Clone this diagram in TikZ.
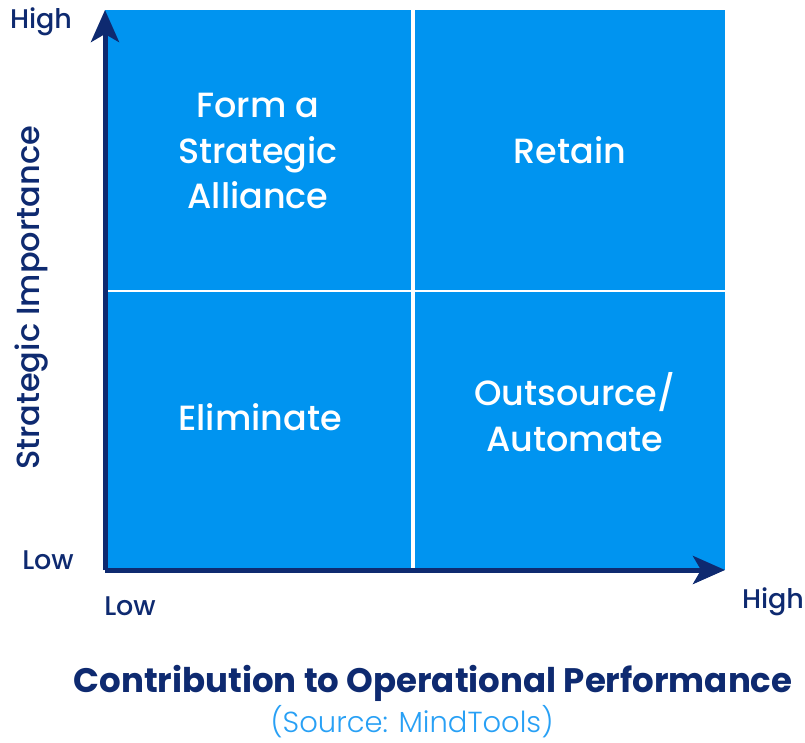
\documentclass[tikz,border=0pt]{standalone}
\usepackage{fontspec}
\setmainfont{Poppins}
\IfFontExistsTF{Poppins Medium}{\newfontfamily\medfont{Poppins Medium}}{\newfontfamily\medfont{Poppins}}
\IfFontExistsTF{Poppins Light}{\newfontfamily\lightfont{Poppins Light}}{\newfontfamily\lightfont{Poppins}}
\usepackage{xcolor}
\usetikzlibrary{arrows.meta,positioning,calc}
\definecolor{fieldblue}{RGB}{0,148,240}
\definecolor{navy}{RGB}{14,42,112}
\definecolor{sourceblue}{RGB}{40,160,245}

\begin{document}
\begin{tikzpicture}[
    x=1pt, y=-1pt,
    quad/.style={rectangle, fill=fieldblue, inner sep=0pt, minimum width=310pt, minimum height=278pt},
    quadtext/.style={text=white, align=center, font=\medfont\fontsize{35}{45.5}\selectfont},
    ticktext/.style={text=navy, font=\medfont\fontsize{27}{30}\selectfont},
    axis/.style={navy, line width=5pt, -{Stealth[length=32pt, width=28pt, inset=8pt]}}
]
\useasboundingbox (0,0) rectangle (805,742);

% Quadrants
\node[quad, minimum width=306pt, minimum height=280pt, anchor=north west] (tl) at (105,10) {};
\node[quad, minimum height=280pt, anchor=north west] (tr) at (415,10) {};
\node[quad, minimum width=306pt, anchor=north west] (bl) at (105,292) {};
\node[quad, anchor=north west] (br) at (415,292) {};

\node[quadtext] (alliance) at (258,151) {Form a\\Strategic\\Alliance};
\node[quadtext] (retain) at (570,150) {Retain};
\node[quadtext] (eliminate) at (260,417) {Eliminate};
\node[quadtext] (outsource) at (575,412) {Outsource/\\Automate};

% Axes
\coordinate (origin) at (105,570);
\coordinate (ytip) at (105,10);
\coordinate (xtip) at (725,570);
\draw[axis] (origin) -- (ytip);
\draw[axis] (origin) -- (xtip);

\node[ticktext] (yhigh) at (41,22) {High};
\node[ticktext] (ylow) at (48,560) {Low};
\node[ticktext] (xlow) at (130,606) {Low};
\node[ticktext] (xhigh) at (773,602) {High};

\node[text=navy, rotate=90, font=\medfont\fontsize{32}{36}\selectfont] (ylabel) at (32,298) {Strategic Importance};
\node[text=navy, font=\bfseries\fontsize{34}{40}\selectfont] (xlabel) at (433,683) {Contribution to Operational Performance};
\node[text=sourceblue, inner sep=1pt, font=\lightfont\fontsize{29}{33}\selectfont] (source) at (412,722) {(Source: MindTools)};

\end{tikzpicture}
\end{document}
